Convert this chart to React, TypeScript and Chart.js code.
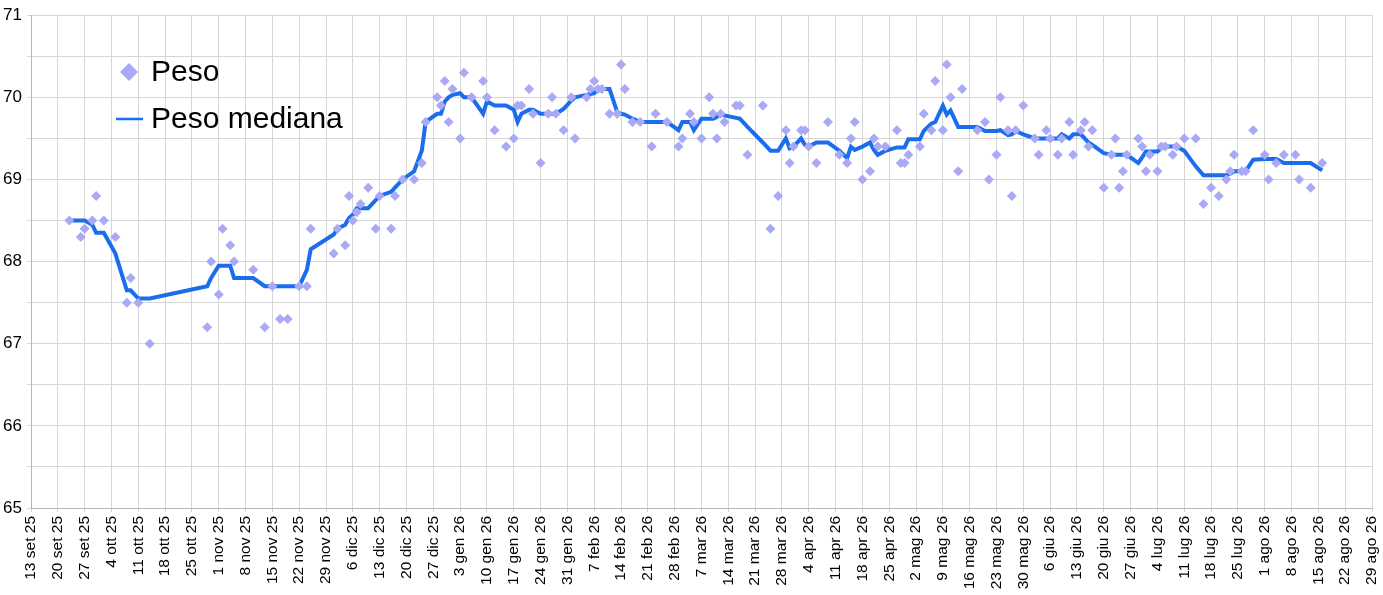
import { useEffect, useRef } from 'react';
import { Chart, registerables } from 'chart.js';

Chart.register(...registerables);

// giorni dal 13 set 25
const days = [
  10, 13, 14, 16, 17, 19, 22, 25, 26, 28, 31, 46, 47, 49, 50, 52, 53, 58, 61, 63, 65, 67, 70, 72, 73,
  79, 80, 82, 83, 84, 85, 86, 88, 90, 91, 94, 95, 97, 100, 102, 103, 106, 107, 108, 109, 110, 112, 113,
  115, 118, 119, 121, 124, 126, 127, 128, 130, 131, 133, 135, 136, 137, 139, 141, 142, 145, 146, 147,
  148, 149, 151, 153, 154, 155, 157, 159, 162, 163, 166, 169, 170, 172, 173, 175, 177, 178, 179, 180,
  181, 184, 185, 187, 191, 193, 195, 197, 198, 199, 201, 202, 203, 205, 208, 211, 213, 214, 215, 217,
  219, 220, 221, 223, 226, 227, 228, 229, 232, 233, 235, 236, 238, 239, 240, 242, 243, 247, 249, 250,
  252, 253, 255, 256, 257, 259, 262, 263, 265, 266, 268, 269, 271, 272, 274, 275, 276, 277, 280, 282,
  283, 284, 285, 286, 289, 290, 291, 292, 294, 295, 296, 298, 299, 301, 304, 306, 308, 310, 312, 313,
  314, 316, 317, 319, 322, 323, 325, 327, 330, 331, 334, 337,
];

const peso = [
  68.5, 68.3, 68.4, 68.5, 68.8, 68.5, 68.3, 67.5, 67.8, 67.5, 67.0, 67.2, 68.0, 67.6, 68.4, 68.2, 68.0,
  67.9, 67.2, 67.7, 67.3, 67.3, 67.7, 67.7, 68.4,
  68.1, 68.4, 68.2, 68.8, 68.5, 68.6, 68.7, 68.9, 68.4, 68.8, 68.4, 68.8, 69.0, 69.0, 69.2, 69.7, 70.0,
  69.9, 70.2, 69.7, 70.1, 69.5, 70.3,
  70.0, 70.2, 70.0, 69.6, 69.4, 69.5, 69.9, 69.9, 70.1, 69.8, 69.2, 69.8, 70.0, 69.8, 69.6, 70.0, 69.5,
  70.0, 70.1, 70.2,
  70.1, 70.1, 69.8, 69.8, 70.4, 70.1, 69.7, 69.7, 69.4, 69.8, 69.7, 69.4, 69.5, 69.8, 69.7, 69.5, 70.0,
  69.8, 69.5, 69.8,
  69.7, 69.9, 69.9, 69.3, 69.9, 68.4, 68.8, 69.6, 69.2, 69.4, 69.6, 69.6, 69.4, 69.2, 69.7, 69.3, 69.2,
  69.5, 69.7, 69.0,
  69.1, 69.5, 69.4, 69.4, 69.6, 69.2, 69.2, 69.3, 69.4, 69.8, 69.6, 70.2, 69.6, 70.4, 70.0, 69.1, 70.1,
  69.6, 69.7, 69.0,
  69.3, 70.0, 69.6, 68.8, 69.6, 69.9, 69.5, 69.3, 69.6, 69.5, 69.3, 69.5, 69.7, 69.3, 69.6, 69.7, 69.4,
  69.6, 68.9, 69.3,
  69.5, 68.9, 69.1, 69.3, 69.5, 69.4, 69.1, 69.3, 69.1, 69.4, 69.4, 69.3, 69.4, 69.5, 69.5, 68.7, 68.9,
  68.8, 69.0, 69.1,
  69.3, 69.1, 69.1, 69.6, 69.3, 69.0, 69.2, 69.3, 69.3, 69.0, 68.9, 69.2,
];

const pesoMediana = [
  68.5, 68.5, 68.5, 68.45, 68.35, 68.35, 68.1, 67.65, 67.65, 67.55, 67.55, 67.7, 67.8, 67.95, 67.95,
  67.95, 67.8, 67.8, 67.7, 67.7, 67.7, 67.7, 67.7, 67.9, 68.15,
  68.33, 68.4, 68.45, 68.53, 68.57, 68.65, 68.65, 68.65, 68.75, 68.8, 68.85, 68.9, 69.0, 69.1, 69.35,
  69.7, 69.8, 69.8, 69.95, 70.0, 70.03, 70.05, 70.0,
  70.0, 69.8, 69.95, 69.9, 69.9, 69.85, 69.7, 69.8, 69.85, 69.85, 69.8, 69.8, 69.8, 69.8, 69.86, 69.96,
  70.0, 70.03, 70.04, 70.05,
  70.1, 70.1, 70.1, 69.82, 69.8, 69.79, 69.74, 69.7, 69.7, 69.7, 69.7, 69.6, 69.7, 69.7, 69.6, 69.74,
  69.74, 69.74, 69.76, 69.81,
  69.78, 69.75, 69.74, 69.64, 69.45, 69.35, 69.35, 69.5, 69.38, 69.4, 69.5, 69.42, 69.4, 69.45, 69.45,
  69.35, 69.26, 69.4, 69.36, 69.4,
  69.45, 69.36, 69.3, 69.35, 69.39, 69.39, 69.39, 69.49, 69.49, 69.59, 69.68, 69.7, 69.9, 69.79, 69.84,
  69.64, 69.64, 69.64, 69.59, 69.59,
  69.59, 69.6, 69.54, 69.55, 69.59, 69.55, 69.5, 69.5, 69.5, 69.5, 69.5, 69.55, 69.5, 69.55, 69.55,
  69.5, 69.45, 69.42, 69.32, 69.3,
  69.3, 69.3, 69.3, 69.3, 69.2, 69.27, 69.34, 69.34, 69.34, 69.38, 69.4, 69.4, 69.4, 69.35, 69.16,
  69.05, 69.05, 69.05, 69.05, 69.07,
  69.1, 69.1, 69.1, 69.24, 69.25, 69.25, 69.25, 69.2, 69.2, 69.2, 69.2, 69.11,
];

// etichette settimanali dell'asse x
const weekLabels = [
  '13 set 25', '20 set 25', '27 set 25', '4 ott 25', '11 ott 25', '18 ott 25', '25 ott 25',
  '1 nov 25', '8 nov 25', '15 nov 25', '22 nov 25', '29 nov 25', '6 dic 25', '13 dic 25',
  '20 dic 25', '27 dic 25', '3 gen 26', '10 gen 26', '17 gen 26', '24 gen 26', '31 gen 26',
  '7 feb 26', '14 feb 26', '21 feb 26', '28 feb 26', '7 mar 26', '14 mar 26', '21 mar 26',
  '28 mar 26', '4 apr 26', '11 apr 26', '18 apr 26', '25 apr 26', '2 mag 26', '9 mag 26',
  '16 mag 26', '23 mag 26', '30 mag 26', '6 giu 26', '13 giu 26', '20 giu 26', '27 giu 26',
  '4 lug 26', '11 lug 26', '18 lug 26', '25 lug 26', '1 ago 26', '8 ago 26', '15 ago 26',
  '22 ago 26', '29 ago 26',
];

const FONT = '"Liberation Sans", Arial, Helvetica, sans-serif';
const POINT_COLOR = '#a9a9f6';
const LINE_COLOR = '#1a6eec';
const GRID_COLOR = '#d6d6d6';

// legenda disegnata dentro l'area del grafico, in alto a sinistra
const insideLegend = {
  id: 'insideLegend',
  afterDraw(chart: Chart) {
    const ctx = chart.ctx;
    const labels = chart.data.datasets.map((d) => d.label as string);
    ctx.save();
    ctx.font = `30px ${FONT}`;
    ctx.textBaseline = 'middle';

    ctx.fillStyle = POINT_COLOR;
    ctx.beginPath();
    ctx.moveTo(129, 63);
    ctx.lineTo(138, 72);
    ctx.lineTo(129, 81);
    ctx.lineTo(120, 72);
    ctx.closePath();
    ctx.fill();

    ctx.strokeStyle = LINE_COLOR;
    ctx.lineWidth = 2.5;
    ctx.beginPath();
    ctx.moveTo(116, 119);
    ctx.lineTo(143, 119);
    ctx.stroke();

    ctx.fillStyle = '#000';
    ctx.fillText(labels[0], 151, 73);
    ctx.fillText(labels[1], 151, 120);
    ctx.restore();
  },
};

export default function App() {
  const canvasRef = useRef<HTMLCanvasElement>(null);
  const chartRef = useRef<Chart | null>(null);

  useEffect(() => {
    if (!canvasRef.current) return;
    if (chartRef.current) chartRef.current.destroy();

    chartRef.current = new Chart(canvasRef.current, {
      type: 'scatter',
      data: {
        datasets: [
          {
            type: 'scatter',
            label: 'Peso',
            data: days.map((d, i) => ({ x: d, y: peso[i] })),
            pointStyle: 'rectRot',
            pointRadius: 5,
            backgroundColor: POINT_COLOR,
            borderWidth: 0,
          },
          {
            type: 'line',
            label: 'Peso mediana',
            data: days.map((d, i) => ({ x: d, y: pesoMediana[i] })),
            borderColor: LINE_COLOR,
            borderWidth: 4,
            pointRadius: 0,
            tension: 0,
            fill: false,
          },
        ],
      },
      options: {
        responsive: false,
        animation: false,
        layout: { padding: { top: 14, right: 11, left: 0, bottom: 0 } },
        plugins: {
          legend: { display: false },
          tooltip: { enabled: false },
        },
        scales: {
          x: {
            type: 'linear',
            min: 0,
            max: 350,
            afterFit: (axis: any) => {
              axis.height = 87;
              axis.paddingLeft = 0;
              axis.paddingRight = 0;
            },
            grid: { color: GRID_COLOR, tickLength: 4 },
            border: { color: '#b5b5b5' },
            ticks: {
              stepSize: 7,
              autoSkip: false,
              minRotation: 90,
              maxRotation: 90,
              padding: 4,
              color: '#000',
              font: { family: FONT, size: 15.5 },
              callback: (value: any) => weekLabels[Math.round(Number(value) / 7)] ?? '',
            },
          },
          y: {
            min: 65,
            max: 71,
            afterFit: (axis: any) => {
              axis.width = 31;
            },
            grid: { color: GRID_COLOR, tickLength: 4 },
            border: { color: '#b5b5b5' },
            ticks: {
              stepSize: 0.5,
              padding: 5,
              color: '#000',
              font: { family: FONT, size: 17 },
              callback: (value: any) => (Number(value) % 1 === 0 ? String(value) : ''),
            },
          },
        },
      },
      plugins: [insideLegend],
    });

    return () => {
      if (chartRef.current) {
        chartRef.current.destroy();
        chartRef.current = null;
      }
    };
  }, []);

  return (
    <div style={{ position: 'absolute', left: 0, top: 0, width: 1383, height: 595, background: '#fff' }}>
      <canvas ref={canvasRef} width={1383} height={595} />
    </div>
  );
}
